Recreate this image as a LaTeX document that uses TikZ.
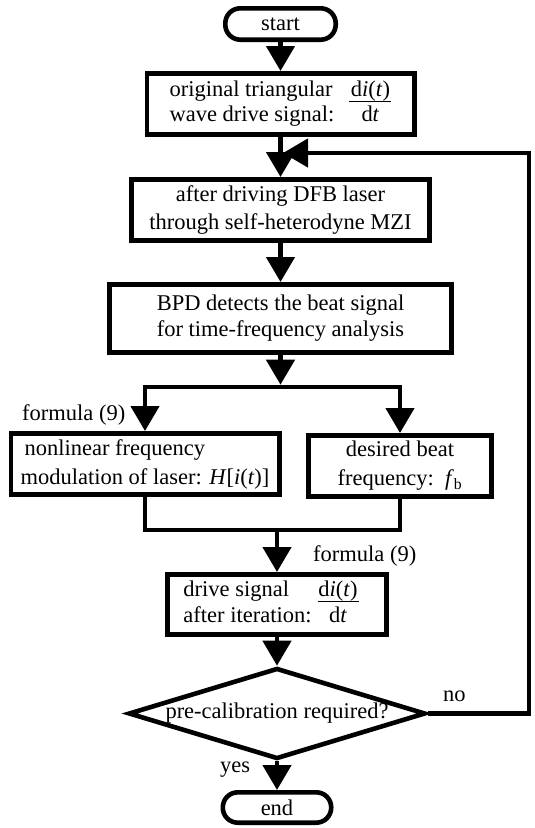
\documentclass[tikz,border=0pt]{standalone}
\usepackage{fontspec}
\setmainfont{Liberation Serif}
\usetikzlibrary{arrows.meta,shapes.geometric}
\newcommand\myfrac[2]{\makebox[#2]{#1}\llap{\rule[-5.65pt]{#2}{1.3pt}}}
\begin{document}
\begin{tikzpicture}[x=1pt,y=-1pt,
  every node/.style={font=\fontsize{22.5}{27}\selectfont, inner sep=0pt},
  box/.style={draw, line width=4.6pt, outer sep=2.3pt, rectangle, minimum height=61.4pt},
  term/.style={draw, line width=4.6pt, outer sep=2.3pt, rectangle, rounded corners=15pt},
  flow/.style={line width=4.6pt},
  arr/.style={flow, -{Triangle[length=25pt,width=28pt]}},
  lbl/.style={anchor=base west}]
\useasboundingbox (0,0) rectangle (535,828);
\fill[white] (0,0) rectangle (535,828);
% nodes
\node[term, minimum width=110.4pt, minimum height=31.4pt] (start) at (280.5,24) {start};
\node[box, minimum width=267.4pt, font=\fontsize{22.5}{25}\selectfont] (b1) at (280.5,104)
  {\begin{tabular}{@{}l@{\hspace{15pt}}c@{}}original triangular & \myfrac{d\textit{i}(\textit{t})}{42pt}\\ wave drive signal: & d\textit{t}\end{tabular}};
\node[box, minimum width=298.4pt, align=center, font=\fontsize{22.5}{28}\selectfont] (b2) at (280.5,210)
  {after driving DFB laser\\through self-heterodyne MZI};
\node[box, minimum width=342.4pt, minimum height=68.4pt, align=center, font=\fontsize{22.5}{26}\selectfont] (b3) at (280.5,318.5)
  {BPD detects the beat signal\\for time-frequency analysis};
\coordinate (split) at (280.5,387);
\node[box, minimum width=268.4pt, align=left, font=\fontsize{22.5}{29}\selectfont] (lf) at (145,464)
  {\hspace*{4pt}nonlinear frequency\\modulation of laser: \textit{H}[\textit{i}(\textit{t})]};
\node[box, minimum width=183.4pt, align=center, font=\fontsize{22.5}{29}\selectfont] (rt) at (400,466)
  {desired beat\\frequency:\ \ \textit{f}\textsubscript{b}};
\coordinate (merge) at (277,530);
\node[box, minimum width=219.4pt, minimum height=60.4pt, font=\fontsize{22.5}{26}\selectfont] (dr) at (277,604.5)
  {\begin{tabular}{@{}l@{\hspace{6pt}}c@{\hspace{12pt}}}drive signal & \myfrac{d\textit{i}(\textit{t})}{41pt}\\ after iteration: & d\textit{t}\end{tabular}};
\node[draw, line width=4.6pt, outer sep=2.3pt, diamond, aspect=3.2, minimum width=297pt, minimum height=91pt] (dec) at (277,713.5)
  {pre-calibration required?};
\node[term, minimum width=108.4pt, minimum height=30.4pt] (stop) at (277,807.5) {end};
\coordinate (fbc) at (529,153);
\coordinate (fbt) at (283,153);
% labels
\node[lbl] (f1) at (22,420) {formula (9)};
\node[lbl] (f2) at (313,561) {formula (9)};
\node[lbl] (no) at (443,701) {no};
\node[lbl] (yes) at (220,772) {yes};
% connectors
\draw[arr] (start) -- (b1);
\draw[arr] (b1) -- (b2);
\draw[arr] (dec.east) -| (fbc) -- (fbt);
\draw[arr] (b2) -- (b3);
\draw[arr] (b3) -- ([yshift=2.3pt]split);
\draw[arr] (split) -| (lf);
\draw[arr] (split) -| (rt);
\draw[flow] (lf) |- (merge);
\draw[flow] (rt) |- (merge);
\draw[arr] (merge) -- (dr);
\draw[arr] (dr) -- (dec);
\draw[arr] (dec) -- (stop);
\end{tikzpicture}
\end{document}
